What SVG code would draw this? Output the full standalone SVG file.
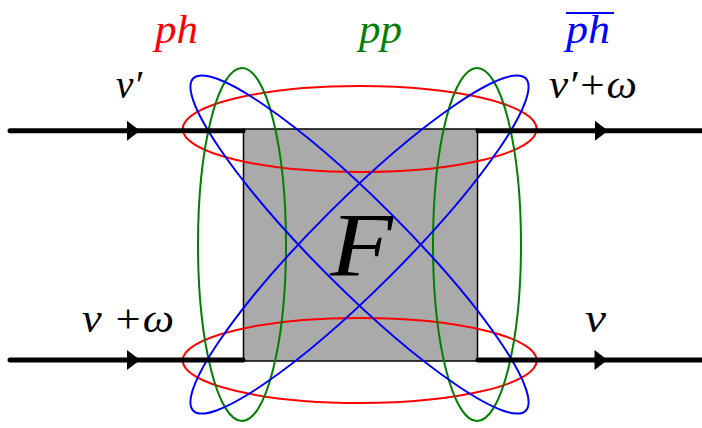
<svg xmlns="http://www.w3.org/2000/svg" width="702" height="428" viewBox="0 0 702 428">
<style>
.m{font-family:"Liberation Serif","Times New Roman",serif;font-style:italic}
.loop{fill:none;stroke-width:2}
.wire{stroke:#000;stroke-width:5;stroke-linecap:round;fill:none}
</style>
<defs>
<path id="ah" d="M-13,-10 L0,0 L-13,10 Z" fill="#000"/>
</defs>
<rect width="702" height="428" fill="#fff"/>
<g id="vertex">
<rect x="243.5" y="129" width="234" height="232" fill="#aaaaaa" stroke="#000" stroke-width="1.5"/>
<text class="m" x="330" y="276" font-size="90" textLength="63" lengthAdjust="spacingAndGlyphs">F</text>
</g>
<g id="loops">
<g id="ph-loops" stroke="#ff0000">
<ellipse class="loop" cx="359.7" cy="129" rx="177" ry="43"/>
<ellipse class="loop" cx="359.7" cy="360.5" rx="177" ry="42.5"/>
</g>
<g id="pp-loops" stroke="#008000">
<ellipse class="loop" cx="242" cy="244.5" rx="44" ry="176.5"/>
<ellipse class="loop" cx="477" cy="244.5" rx="44" ry="176.5"/>
</g>
<g id="phbar-loops" stroke="#0000ff">
<ellipse class="loop" cx="359.5" cy="244.5" rx="235" ry="44" transform="rotate(45 359.5 244.5)"/>
<ellipse class="loop" cx="359.5" cy="244.5" rx="235" ry="44" transform="rotate(-45 359.5 244.5)"/>
</g>
</g>
<g id="connectors">
<line class="wire" x1="10" y1="130.8" x2="243" y2="130.8"/>
<line class="wire" x1="478" y1="130.8" x2="705" y2="130.8"/>
<line class="wire" x1="10" y1="360" x2="243" y2="360"/>
<line class="wire" x1="478" y1="360" x2="705" y2="360"/>
<use href="#ah" x="140" y="130.8"/>
<use href="#ah" x="608" y="130.8"/>
<use href="#ah" x="140" y="360"/>
<use href="#ah" x="607.5" y="360"/>
</g>
<g id="labels">
<text class="m" x="155" y="43" font-size="40" fill="#ff0000" textLength="43" lengthAdjust="spacingAndGlyphs">ph</text>
<text class="m" x="359" y="43" font-size="40" fill="#008000" textLength="43" lengthAdjust="spacingAndGlyphs">pp</text>
<text class="m" x="566" y="43" font-size="40" fill="#0000ff" textLength="44" lengthAdjust="spacingAndGlyphs">ph</text>
<line x1="566" y1="13" x2="614" y2="13" stroke="#0000ff" stroke-width="2"/>
<text class="m" x="116" y="98" font-size="40" textLength="26" lengthAdjust="spacingAndGlyphs">ν′</text>
<text class="m" x="549" y="98" font-size="40" textLength="88" lengthAdjust="spacingAndGlyphs">ν′+ω</text>
<text class="m" x="82" y="332" font-size="40" textLength="92" lengthAdjust="spacingAndGlyphs">ν +ω</text>
<text class="m" x="585" y="332" font-size="40" textLength="21" lengthAdjust="spacingAndGlyphs">ν</text>
</g>
</svg>
